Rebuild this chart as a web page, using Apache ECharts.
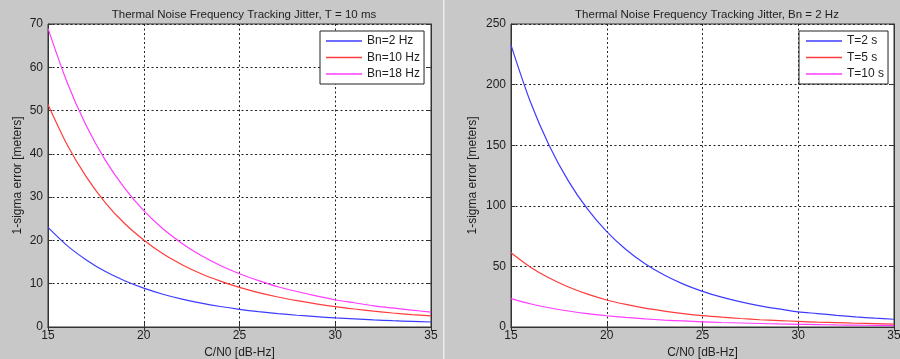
<!DOCTYPE html>
<html>
<head>
<meta charset="utf-8">
<script src="https://cdn.jsdelivr.net/npm/echarts@6/dist/echarts.min.js"></script>
<style>
html,body{margin:0;padding:0;background:#c8c8c8;}
#c{width:900px;height:359px;}
</style>
</head>
<body>
<div id="c"></div>
<script>
// C/N0 [dB-Hz]
var cn0 = [15,16,17,18,19,20,21,22,23,24,25,26,27,28,29,30,31,32,33,34,35];
var xTicks = [15,20,25,30,35];

// Left panel: T = 10 ms
var leftTitle = 'Thermal Noise Frequency Tracking Jitter, T = 10 ms';
var leftNames = ['Bn=2 Hz','Bn=10 Hz','Bn=18 Hz'];
var bn2  = [23.0,18.8,15.5,12.8,10.7,8.97,7.57,6.43,5.50,4.73,4.09,3.55,3.10,2.72,2.39,2.10,1.86,1.64,1.45,1.29,1.15];
var bn10 = [51.4,42.1,34.7,28.7,23.9,20.1,16.9,14.4,12.3,10.6,9.15,7.94,6.93,6.08,5.34,4.70,4.16,3.67,3.24,2.88,2.57];
var bn18 = [69.0,56.5,46.5,38.5,32.1,26.9,22.7,19.3,16.5,14.2,12.3,10.7,9.3,8.2,7.2,6.3,5.6,4.9,4.4,3.9,3.45];
var leftYTicks = [0,10,20,30,40,50,60,70];

// Right panel: Bn = 2 Hz
var rightTitle = 'Thermal Noise Frequency Tracking Jitter, Bn = 2 Hz';
var rightNames = ['T=2 s','T=5 s','T=10 s'];
var t2  = [232.6,186.3,149.6,120.4,97.2,78.7,64.0,52.2,42.9,35.4,29.4,24.6,20.7,17.5,14.9,12.5,11.1,9.6,8.35,7.3,6.4];
var t5  = [61.3,49.6,40.4,33.0,27.1,22.3,18.6,15.5,13.1,11.1,9.4,8.1,7.0,6.0,5.3,4.6,4.0,3.6,3.1,2.8,2.45];
var t10 = [23.4,19.2,15.9,13.2,11.0,9.3,7.9,6.7,5.7,5.0,4.3,3.7,3.3,2.9,2.5,2.2,2.0,1.7,1.5,1.4,1.2];
var rightYTicks = [0,50,100,150,200,250];

var xName = 'C/N0 [dB-Hz]';
var yName = '1-sigma error [meters]';
var colors = ['#3c3cff','#ff3c3c','#ff3cff'];

function pairs(ys){ return cn0.map(function(x,i){ return [x, ys[i]]; }); }

var FONT = 'Liberation Sans, Arial, sans-serif';
var TXT = '#1e1e1e';
var dash = {color:'#222', type:[2,2.5], width:1};

function xAxes(gi){
  return [{
    type:'value', gridIndex:gi, min:xTicks[0], max:xTicks[xTicks.length-1], interval:5,
    name:xName, nameLocation:'middle', nameGap:19,
    nameTextStyle:{color:TXT, fontSize:12, fontFamily:FONT},
    axisLine:{show:true, lineStyle:{color:'#333'}},
    axisTick:{show:true, inside:true, length:4, lineStyle:{color:'#333'}},
    axisLabel:{color:TXT, fontSize:12, fontFamily:FONT, margin:3},
    splitLine:{show:true, lineStyle:dash}
  },{
    type:'value', gridIndex:gi, position:'top', min:xTicks[0], max:xTicks[xTicks.length-1], interval:5,
    axisLine:{show:true, lineStyle:{color:'#333'}},
    axisTick:{show:true, inside:true, length:4, lineStyle:{color:'#333'}},
    axisLabel:{show:false}, splitLine:{show:false}
  }];
}
function yAxes(gi, ticks, gap){
  var mx = ticks[ticks.length-1], iv = ticks[1]-ticks[0];
  return [{
    type:'value', gridIndex:gi, min:ticks[0], max:mx, interval:iv,
    name:yName, nameLocation:'middle', nameGap:gap,
    nameTextStyle:{color:TXT, fontSize:12, fontFamily:FONT},
    axisLine:{show:true, lineStyle:{color:'#333'}},
    axisTick:{show:true, inside:true, length:4, lineStyle:{color:'#333'}},
    axisLabel:{color:TXT, fontSize:12, fontFamily:FONT, margin:5},
    splitLine:{show:true, lineStyle:dash}
  },{
    type:'value', gridIndex:gi, position:'right', min:ticks[0], max:mx, interval:iv,
    axisLine:{show:true, lineStyle:{color:'#333'}},
    axisTick:{show:true, inside:true, length:4, lineStyle:{color:'#333'}},
    axisLabel:{show:false}, splitLine:{show:false}
  }];
}
function line(name, ys, xi, yi, color){
  return {type:'line', name:name, data:pairs(ys), xAxisIndex:xi, yAxisIndex:yi,
    showSymbol:false, symbol:'none', smooth:0.3, lineStyle:{color:color, width:1.2},
    itemStyle:{color:color}, animation:false, z:3};
}
function legend(names, left, top, padL){
  return {data:names, orient:'vertical', left:left, top:top,
    backgroundColor:'#fff', borderColor:'#222', borderWidth:1,
    padding:[3,4,3,padL], itemGap:2.5, itemWidth:36, itemHeight:1.5, icon:'rect',
    textStyle:{color:TXT, fontSize:12, fontFamily:FONT, lineHeight:14},
    selectedMode:false};
}

var chart = echarts.init(document.getElementById('c'), null, {renderer:'canvas'});
chart.setOption({
  backgroundColor:'#c8c8c8',
  animation:false,
  title:[
    {text:leftTitle, left:239, top:4, textAlign:'center', textStyle:{color:TXT, fontSize:11.5, fontWeight:'normal', fontFamily:FONT}},
    {text:rightTitle, left:702, top:4, textAlign:'center', textStyle:{color:TXT, fontSize:11.5, fontWeight:'normal', fontFamily:FONT}}
  ],
  graphic:[{type:'rect', shape:{x:443, y:0, width:1.5, height:359}, style:{fill:'#ececec'}, silent:true}],
  legend:[legend(leftNames, 320, 31, 6), legend(rightNames, 799, 31, 7)],
  grid:[
    {left:48, top:24, width:383, height:303, show:true, backgroundColor:'#fff', borderColor:'#333', borderWidth:1, containLabel:false, outerBoundsMode:'none'},
    {left:511, top:24, width:383, height:303, show:true, backgroundColor:'#fff', borderColor:'#333', borderWidth:1, containLabel:false, outerBoundsMode:'none'}
  ],
  xAxis: xAxes(0).concat(xAxes(1)),
  yAxis: yAxes(0, leftYTicks, 24).concat(yAxes(1, rightYTicks, 32)),
  series:[
    line(leftNames[0], bn2, 0, 0, colors[0]),
    line(leftNames[1], bn10, 0, 0, colors[1]),
    line(leftNames[2], bn18, 0, 0, colors[2]),
    line(rightNames[0], t2, 2, 2, colors[0]),
    line(rightNames[1], t5, 2, 2, colors[1]),
    line(rightNames[2], t10, 2, 2, colors[2])
  ]
});
</script>
</body>
</html>
